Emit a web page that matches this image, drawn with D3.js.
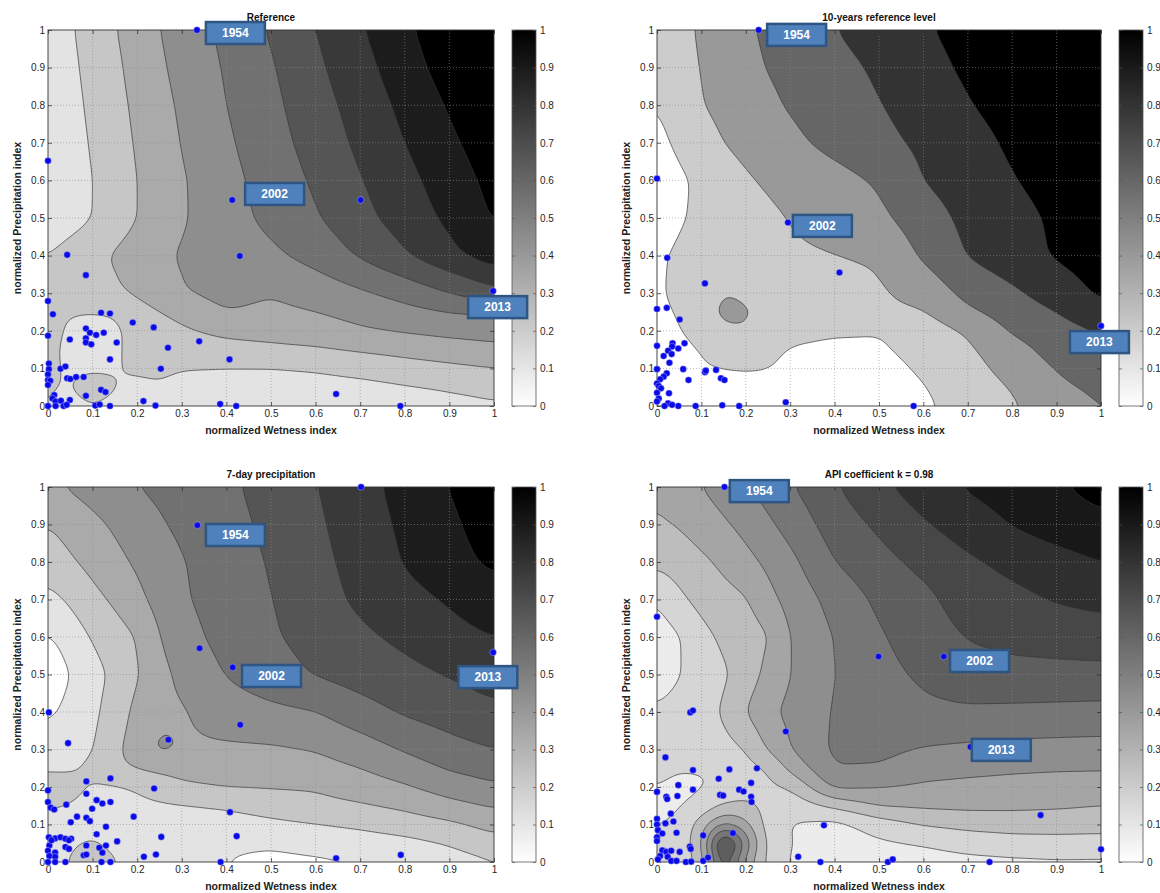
<!DOCTYPE html>
<html>
<head>
<meta charset="utf-8">
<script src="https://cdnjs.cloudflare.com/ajax/libs/d3/7.8.5/d3.min.js"></script>
<style>
  body { margin: 0; background: #fff; }
  svg { display: block; }
  text { font-family: "Liberation Sans", Arial, sans-serif; }
</style>
</head>
<body>
<svg id="fig" width="1160" height="893"></svg>
<script>
'use strict';

// grid nodes (normalized Wetness index / normalized Precipitation index)
const gridX = [0, .05, .1, .15, .2, .25, .3, .4, .5, .6, .7, .8, .9, 1];
const gridY = [0, .05, .1, .15, .2, .25, .3, .4, .5, .6, .7, .8, .9, 1];

// field values, one row per gridY (bottom to top)
const refField = [
  [.20, .17, .19, .17, .15, .14, .13, .11, .11, .115, .13, .16, .18, .19],
  [.21, .19, .26, .205, .17, .19, .16, .15, .15, .16, .17, .19, .205, .22],
  [.22, .185, .18, .19, .22, .225, .205, .199, .198, .21, .235, .26, .28, .30],
  [.22, .18, .16, .18, .24, .25, .26, .27, .28, .29, .31, .33, .35, .37],
  [.23, .185, .17, .18, .235, .26, .285, .32, .335, .355, .39, .41, .43, .445],
  [.22, .205, .20, .205, .26, .297, .33, .40, .38, .40, .43, .47, .50, .51],
  [.22, .24, .26, .285, .315, .355, .395, .43, .405, .44, .485, .535, .60, .67],
  [.20, .24, .275, .31, .345, .38, .41, .445, .48, .535, .61, .69, .775, .85],
  [.13, .16, .20, .25, .30, .35, .39, .46, .525, .59, .67, .745, .82, .91],
  [.10, .15, .20, .25, .30, .35, .39, .47, .54, .615, .695, .77, .85, .93],
  [.11, .16, .21, .26, .31, .355, .405, .485, .56, .64, .72, .80, .88, .96],
  [.12, .17, .22, .27, .32, .37, .415, .50, .575, .66, .74, .825, .91, 1.0],
  [.13, .18, .23, .28, .335, .385, .43, .51, .59, .68, .765, .855, .945, 1.03],
  [.14, .19, .24, .295, .347, .40, .44, .525, .61, .70, .79, .88, .97, 1.05]
];
const tenYearField = [
  [.02, .04, .08, .10, .12, .13, .14, .13, .13, .17, .27, .38, .49, .60],
  [.04, .06, .10, .12, .14, .15, .15, .14, .14, .19, .30, .41, .55, .65],
  [.05, .10, .19, .21, .215, .205, .17, .13, .15, .22, .33, .47, .61, .75],
  [.10, .15, .21, .26, .27, .23, .19, .17, .18, .25, .37, .527, .675, .76],
  [.14, .19, .27, .36, .39, .29, .24, .215, .20, .30, .42, .623, .72, .81],
  [.17, .21, .30, .46, .43, .33, .33, .345, .36, .39, .567, .693, .80, .95],
  [.18, .23, .28, .405, .36, .33, .33, .35, .375, .47, .657, .765, .894, 1.03],
  [.18, .22, .26, .29, .32, .345, .37, .395, .42, .63, .81, .913, 1.02, 1.10],
  [.14, .185, .231, .276, .32, .365, .408, .48, .555, .71, .85, .94, 1.03, 1.10],
  [.10, .168, .238, .308, .379, .425, .463, .536, .622, .803, .897, .99, 1.07, 1.13],
  [.15, .234, .319, .402, .454, .506, .558, .655, .745, .838, .933, 1.03, 1.10, 1.16],
  [.195, .29, .395, .45, .51, .566, .617, .704, .791, .89, .99, 1.07, 1.14, 1.20],
  [.22, .31, .413, .48, .547, .61, .645, .74, .83, .94, 1.03, 1.10, 1.17, 1.22],
  [.24, .33, .433, .50, .575, .63, .68, .795, .89, .98, 1.06, 1.14, 1.20, 1.25]
];
const sevenDayField = [
  [.15, .21, .24, .21, .15, .13, .12, .10, .08, .085, .095, .13, .16, .19],
  [.16, .19, .21, .18, .15, .14, .13, .11, .11, .13, .15, .17, .205, .26],
  [.17, .17, .18, .16, .15, .15, .15, .16, .18, .198, .22, .25, .28, .335],
  [.21, .195, .17, .17, .18, .185, .192, .21, .24, .27, .29, .32, .37, .41],
  [.24, .23, .19, .185, .205, .25, .285, .306, .31, .31, .35, .39, .445, .485],
  [.19, .19, .22, .28, .31, .32, .33, .346, .346, .364, .40, .45, .51, .543],
  [.15, .165, .19, .285, .34, .43, .39, .385, .388, .405, .45, .51, .565, .60],
  [.08, .13, .175, .25, .328, .375, .39, .45, .477, .497, .56, .613, .647, .68],
  [.02, .104, .163, .223, .292, .369, .425, .505, .558, .607, .643, .672, .706, .74],
  [.09, .145, .21, .255, .302, .40, .462, .535, .588, .636, .681, .722, .77, .80],
  [.17, .214, .272, .316, .376, .433, .488, .546, .597, .658, .719, .769, .81, .855],
  [.245, .287, .33, .373, .415, .455, .495, .552, .608, .671, .736, .806, .863, .92],
  [.30, .338, .376, .414, .452, .49, .519, .568, .622, .683, .752, .819, .881, .95],
  [.38, .41, .44, .47, .50, .52, .541, .582, .634, .696, .765, .834, .903, .97]
];
const apiField = [
  [.13, .14, .22, .70, .35, .17, .09, .05, .05, .06, .07, .075, .08, .08],
  [.13, .14, .26, .86, .47, .16, .10, .06, .085, .105, .14, .16, .165, .16],
  [.095, .12, .25, .42, .33, .15, .095, .06, .14, .205, .23, .24, .24, .238],
  [.07, .09, .13, .21, .22, .17, .13, .22, .31, .32, .326, .323, .315, .301],
  [.10, .08, .09, .12, .16, .18, .205, .43, .405, .39, .38, .375, .37, .355],
  [.12, .105, .105, .11, .17, .20, .33, .50, .49, .43, .42, .41, .405, .407],
  [.13, .13, .145, .17, .20, .31, .40, .52, .53, .495, .48, .47, .465, .462],
  [.11, .13, .16, .21, .30, .385, .42, .51, .55, .58, .585, .58, .575, .57],
  [.06, .095, .14, .185, .245, .33, .40, .50, .572, .615, .657, .667, .669, .671],
  [.05, .09, .17, .22, .25, .29, .405, .504, .59, .646, .705, .73, .743, .753],
  [.10, .18, .233, .266, .288, .372, .432, .535, .62, .672, .752, .775, .807, .827],
  [.22, .25, .28, .32, .37, .42, .474, .60, .667, .728, .784, .825, .862, .90],
  [.29, .305, .345, .386, .43, .483, .535, .647, .718, .79, .848, .905, .95, .98],
  [.31, .35, .40, .445, .49, .54, .59, .69, .778, .85, .91, .95, .99, 1.03]
];

// scatter of years
const refWet = [0.334, 0, 0.413, 0.701, 0.043, 0.43, 0.085, 0.998, 0, 0.011, 0.119, 0.139, 0.19, 0.237, 0.085, 0.094, 0.108, 0.125, 0, 0.049, 0.154, 0.339, 0.085, 0.085, 0.097, 0.269, 0.139, 0.407, 0.253, 0.002, 0.002, 0, 0, 0.005, 0, 0.028, 0.039, 0.043, 0.05, 0.063, 0.08, 0.085, 0.119, 0.129, 0.014, 0.01, 0.017, 0.029, 0.049, 0, 0.017, 0.035, 0.042, 0.106, 0.116, 0.139, 0.214, 0.241, 0.386, 0.422, 0.646, 0.79];
const refPrec = [1.0, 0.652, 0.548, 0.548, 0.402, 0.399, 0.348, 0.306, 0.279, 0.244, 0.248, 0.246, 0.222, 0.209, 0.206, 0.195, 0.189, 0.195, 0.187, 0.177, 0.169, 0.172, 0.18, 0.169, 0.164, 0.155, 0.124, 0.124, 0.099, 0.113, 0.098, 0.084, 0.069, 0.067, 0.056, 0.099, 0.105, 0.074, 0.072, 0.077, 0.077, 0.027, 0.043, 0.037, 0.029, 0.02, 0.012, 0.014, 0.016, 0, 0, 0, 0.003, 0.001, 0.004, 0, 0.013, 0.001, 0.005, 0, 0.032, 0];

const tenYearWet = [0.229, 0, 0.295, 0.023, 0.411, 0.108, 0, 0.022, 0.051, 1.0, 0, 0.035, 0.062, 0.034, 0.048, 0.025, 0.033, 0.015, 0.028, 0, 0.059, 0.071, 0.108, 0.11, 0.133, 0.144, 0.152, 0.022, 0.015, 0.007, 0, 0.004, 0.009, 0, 0.027, 0.004, 0, 0.025, 0.034, 0.017, 0.048, 0.087, 0.147, 0.185, 0.29, 0.578];
const tenYearPrec = [1.0, 0.605, 0.488, 0.394, 0.355, 0.326, 0.258, 0.261, 0.23, 0.213, 0.16, 0.167, 0.167, 0.158, 0.153, 0.147, 0.138, 0.133, 0.115, 0.098, 0.098, 0.069, 0.09, 0.094, 0.096, 0.074, 0.069, 0.087, 0.078, 0.071, 0.06, 0.053, 0.047, 0.035, 0.034, 0.02, 0.012, 0.007, 0.003, 0, 0, 0, 0.002, 0, 0.01, 0];

const sevenDayWet = [0.702, 0.335, 0.34, 0.414, 0.998, 0.002, 0.431, 0.045, 0.27, 0.14, 0.086, 0.238, 0, 0.086, 0.109, 0.122, 0.14, 0, 0.006, 0.014, 0.041, 0.099, 0.408, 0.086, 0.094, 0.065, 0.051, 0.192, 0.13, 0.109, 0.423, 0.254, 0.155, 0.002, 0.016, 0.028, 0.039, 0.052, 0.047, 0.086, 0.13, 0.115, 0.039, 0.047, 0.003, 0.008, 0, 0.016, 0.003, 0.016, 0.08, 0.086, 0.122, 0, 0.016, 0.039, 0.12, 0.14, 0.215, 0.242, 0.387, 0.646, 0.791];
const sevenDayPrec = [1.0, 0.898, 0.57, 0.519, 0.559, 0.399, 0.366, 0.317, 0.326, 0.223, 0.215, 0.196, 0.191, 0.182, 0.165, 0.156, 0.16, 0.16, 0.145, 0.14, 0.153, 0.142, 0.133, 0.118, 0.109, 0.121, 0.106, 0.121, 0.094, 0.074, 0.069, 0.067, 0.055, 0.066, 0.063, 0.066, 0.062, 0.062, 0.058, 0.044, 0.044, 0.038, 0.04, 0.035, 0.044, 0.058, 0.03, 0.025, 0.016, 0.014, 0.018, 0.02, 0.025, 0, 0, 0, 0, 0, 0.014, 0.02, 0, 0.01, 0.019];

const apiWet = [0.152, 0, 0.499, 0.646, 0.075, 0.081, 0.29, 0.706, 0.019, 0.081, 0.163, 0.225, 0.139, 0.212, 0.048, 0, 0.081, 0.185, 0.195, 0.142, 0.149, 0.021, 0.023, 0.046, 0.212, 0.213, 0.031, 0, 0.019, 0.037, 0, 0.002, 0.012, 0.044, 0.864, 0.376, 0.104, 0.171, 0, 0, 0.074, 0.076, 0.012, 0.021, 0.032, 0.051, 0.007, 0.024, 0.002, 0.032, 0.044, 0.065, 0.077, 0.104, 0.115, 0.318, 0.368, 0.52, 0.531, 0.749, 1.0];
const apiPrec = [1.0, 0.654, 0.548, 0.548, 0.399, 0.404, 0.348, 0.307, 0.279, 0.245, 0.247, 0.25, 0.222, 0.211, 0.205, 0.187, 0.193, 0.193, 0.188, 0.179, 0.177, 0.174, 0.168, 0.176, 0.174, 0.16, 0.129, 0.115, 0.103, 0.108, 0.1, 0.085, 0.076, 0.078, 0.125, 0.098, 0.071, 0.077, 0.066, 0.056, 0.041, 0.035, 0.031, 0.027, 0.03, 0.027, 0.016, 0.014, 0.007, 0.003, 0.003, 0, 0.001, 0.003, 0.012, 0.014, 0, 0, 0.007, 0, 0.034];

// year call-outs (box left edge, box centre) in data units
const years = ['1954', '2002', '2013'];
const refLabelX = [0.354, 0.442, 0.942], refLabelY = [0.992, 0.564, 0.263];
const tenYearLabelX = [0.248, 0.306, 0.93], tenYearLabelY = [0.987, 0.479, 0.17];
const sevenDayLabelX = [0.354, 0.435, 0.92], sevenDayLabelY = [0.872, 0.496, 0.493];
const apiLabelX = [0.164, 0.66, 0.709], apiLabelY = [0.989, 0.536, 0.299];

const levelsTenth = d3.range(0, 10).map(i => i / 10);
const levelsTenthTo1 = d3.range(0, 11).map(i => i / 10);
const levelsFifth = d3.range(0, 6).map(i => i / 5);
const tickVals = d3.range(0, 11).map(i => i / 10);
const fmt = d => String(+d.toFixed(1));

const panels = [
  { title: 'Reference', field: refField, wet: refWet, prec: refPrec, levels: levelsTenth, shade: [0, 0.9],
    labX: refLabelX, labY: refLabelY, left: 48, top: 30, w: 446, h: 376 },
  { title: '10-years reference level', field: tenYearField, wet: tenYearWet, prec: tenYearPrec, levels: levelsFifth, shade: [0, 1.0],
    labX: tenYearLabelX, labY: tenYearLabelY, left: 657, top: 30, w: 444, h: 376 },
  { title: '7-day precipitation', field: sevenDayField, wet: sevenDayWet, prec: sevenDayPrec, levels: levelsTenth, shade: [0, 0.9],
    labX: sevenDayLabelX, labY: sevenDayLabelY, left: 48, top: 487, w: 446, h: 375 },
  { title: 'API coefficient k = 0.98', field: apiField, wet: apiWet, prec: apiPrec, levels: levelsTenthTo1, shade: [-0.08, 1.0],
    labX: apiLabelX, labY: apiLabelY, left: 657, top: 487, w: 444, h: 375 }
];

const svg = d3.select('#fig');
const defs = svg.append('defs');
const grad = defs.append('linearGradient').attr('id', 'cbGrad')
  .attr('x1', 0).attr('y1', 1).attr('x2', 0).attr('y2', 0);
grad.append('stop').attr('offset', 0).attr('stop-color', '#fff');
grad.append('stop').attr('offset', 1).attr('stop-color', '#000');

function locate(nodes, v) {
  const k = d3.bisectRight(nodes, v) - 1;
  return Math.max(0, Math.min(nodes.length - 2, k));
}

// bilinear resample of the node table onto a fine regular grid
function fineField(rows, n) {
  const vals = new Float64Array(n * n);
  for (let j = 0; j < n; j++) {
    const yv = j / (n - 1), b = locate(gridY, yv);
    const ty = (yv - gridY[b]) / (gridY[b + 1] - gridY[b]);
    for (let i = 0; i < n; i++) {
      const xv = i / (n - 1), a = locate(gridX, xv);
      const tx = (xv - gridX[a]) / (gridX[a + 1] - gridX[a]);
      const lo = rows[b][a] * (1 - tx) + rows[b][a + 1] * tx;
      const hi = rows[b + 1][a] * (1 - tx) + rows[b + 1][a + 1] * tx;
      vals[j * n + i] = lo * (1 - ty) + hi * ty;
    }
  }
  if (typeof d3.blur2 === 'function') d3.blur2({ data: vals, width: n, height: n }, 3);
  return vals;
}

function drawPanel(p, k) {
  const x = d3.scaleLinear().domain([0, 1]).range([p.left, p.left + p.w]);
  const y = d3.scaleLinear().domain([0, 1]).range([p.top + p.h, p.top]);
  const shade = d3.scaleLinear().domain(p.shade).range([255, 0]).clamp(true);
  const n = 201;

  const vals = fineField(p.field, n);
  const contours = d3.contours().size([n, n]).thresholds(p.levels)(vals);
  const proj = d3.geoTransform({
    point: function(px, py) {
      this.stream.point(x((px - 0.5) / (n - 1)), y((py - 0.5) / (n - 1)));
    }
  });
  const path = d3.geoPath(proj);

  defs.append('clipPath').attr('id', 'clip' + k)
    .append('rect').attr('x', p.left).attr('y', p.top).attr('width', p.w).attr('height', p.h);

  const g = svg.append('g').attr('clip-path', 'url(#clip' + k + ')');
  g.selectAll('path')
    .data(contours)
    .join('path')
    .attr('d', path)
    .attr('fill', d => {
      const v = Math.round(shade(d.value));
      return 'rgb(' + v + ',' + v + ',' + v + ')';
    })
    .attr('stroke', (d, i) => i ? '#353535' : 'none')
    .attr('stroke-width', 0.7);

  // dotted grid
  const inner = tickVals.slice(1, -1);
  g.selectAll('line.gx').data(inner).join('line')
    .attr('x1', d => x(d)).attr('x2', d => x(d))
    .attr('y1', p.top).attr('y2', p.top + p.h)
    .attr('stroke', '#8c8c8c').attr('stroke-width', 0.6).attr('stroke-dasharray', '1,2');
  g.selectAll('line.gy').data(inner).join('line')
    .attr('y1', d => y(d)).attr('y2', d => y(d))
    .attr('x1', p.left).attr('x2', p.left + p.w)
    .attr('stroke', '#8c8c8c').attr('stroke-width', 0.6).attr('stroke-dasharray', '1,2');

  // axes with inward ticks
  const axG = svg.append('g').attr('font-size', 11);
  axG.append('g').attr('transform', 'translate(0,' + (p.top + p.h) + ')')
    .call(d3.axisBottom(x).tickValues(tickVals).tickFormat(fmt).tickSizeInner(-4).tickSizeOuter(0).tickPadding(4));
  axG.append('g').attr('transform', 'translate(' + p.left + ',0)')
    .call(d3.axisLeft(y).tickValues(tickVals).tickFormat(fmt).tickSizeInner(-4).tickSizeOuter(0).tickPadding(3));
  axG.append('g').attr('transform', 'translate(0,' + p.top + ')')
    .call(d3.axisTop(x).tickValues(tickVals).tickFormat('').tickSizeInner(-4).tickSizeOuter(0));
  axG.append('g').attr('transform', 'translate(' + (p.left + p.w) + ',0)')
    .call(d3.axisRight(y).tickValues(tickVals).tickFormat('').tickSizeInner(-4).tickSizeOuter(0));
  axG.selectAll('.domain').remove();
  axG.selectAll('.tick line').attr('stroke', '#222').attr('stroke-width', 0.7);
  axG.selectAll('.tick text').attr('fill', '#262626').attr('font-family', '"Liberation Sans", Arial, sans-serif');

  svg.append('rect')
    .attr('x', p.left).attr('y', p.top).attr('width', p.w).attr('height', p.h)
    .attr('fill', 'none').attr('stroke', '#333').attr('stroke-width', 0.9);

  // scatter
  svg.append('g').selectAll('circle')
    .data(p.wet.map((w, i) => [w, p.prec[i]]))
    .join('circle')
    .attr('cx', d => x(d[0])).attr('cy', d => y(d[1])).attr('r', 3.3)
    .attr('fill', '#0a0ae6').attr('stroke', 'rgba(200,200,255,0.7)').attr('stroke-width', 0.6);

  // titles and axis labels
  svg.append('text').attr('x', p.left + p.w / 2).attr('y', p.top - 9)
    .attr('text-anchor', 'middle').attr('font-size', 10).attr('font-weight', 'bold').attr('fill', '#111')
    .text(p.title);
  svg.append('text').attr('x', p.left + p.w / 2).attr('y', p.top + p.h + 28)
    .attr('text-anchor', 'middle').attr('font-size', 10.5).attr('font-weight', 'bold').attr('fill', '#222')
    .text('normalized Wetness index');
  svg.append('text')
    .attr('transform', 'translate(' + (p.left - 27) + ',' + (p.top + p.h / 2) + ') rotate(-90)')
    .attr('text-anchor', 'middle').attr('font-size', 10.5).attr('font-weight', 'bold').attr('fill', '#222')
    .text('normalized Precipitation index');

  // colour bar
  const cbX = p.left + p.w + 18, cbW = 24;
  svg.append('rect').attr('x', cbX).attr('y', p.top).attr('width', cbW).attr('height', p.h)
    .attr('fill', 'url(#cbGrad)').attr('stroke', '#555').attr('stroke-width', 0.8);
  const cbG = svg.append('g').attr('font-size', 11);
  cbG.append('g').attr('transform', 'translate(' + (cbX + cbW) + ',0)')
    .call(d3.axisRight(y).tickValues(tickVals).tickFormat(fmt).tickSizeInner(-3).tickSizeOuter(0).tickPadding(4));
  cbG.append('g').attr('transform', 'translate(' + cbX + ',0)')
    .call(d3.axisLeft(y).tickValues(tickVals).tickFormat('').tickSizeInner(-3).tickSizeOuter(0));
  cbG.selectAll('.domain').remove();
  cbG.selectAll('.tick line').attr('stroke', '#555').attr('stroke-width', 0.7);
  cbG.selectAll('.tick text').attr('fill', '#262626').attr('font-family', '"Liberation Sans", Arial, sans-serif');

  return { x, y };
}

const scales = panels.map((p, k) => drawPanel(p, k));

// year call-out boxes on top of everything
panels.forEach((p, k) => {
  const { x, y } = scales[k];
  const lg = svg.append('g').selectAll('g')
    .data(years.map((yr, i) => ({ yr, lx: p.labX[i], ly: p.labY[i] })))
    .join('g')
    .attr('transform', d => 'translate(' + x(d.lx) + ',' + y(d.ly) + ')');
  lg.append('rect').attr('x', 0).attr('y', -11).attr('width', 59).attr('height', 22)
    .attr('fill', '#4f81bd').attr('stroke', '#2f5583').attr('stroke-width', 2.5);
  lg.append('text').attr('x', 29.5).attr('y', 0).attr('dy', '0.36em')
    .attr('text-anchor', 'middle').attr('font-size', 12).attr('font-weight', 'bold').attr('fill', '#fff')
    .text(d => d.yr);
});
</script>
</body>
</html>
